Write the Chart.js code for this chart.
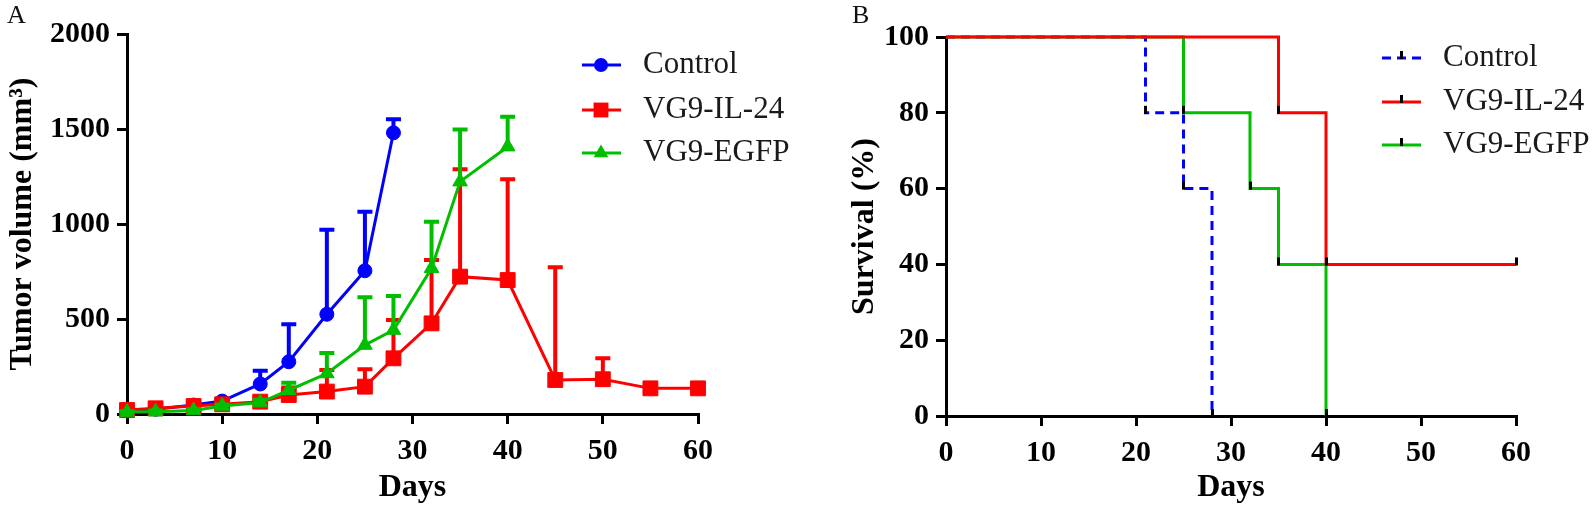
<!DOCTYPE html>
<html>
<head>
<meta charset="utf-8">
<script src="https://cdn.jsdelivr.net/npm/chart.js@4.4.1/dist/chart.umd.min.js"></script>
<style>
  html, body { margin: 0; padding: 0; background: #fff; }
  #wrap { position: relative; width: 1593px; height: 508px; overflow: hidden; }
  .box { position: absolute; top: 0; height: 508px; }
  .letter { position: absolute; font-family: "Liberation Serif", "Times New Roman", serif; font-size: 26px; color: #111; }
</style>
</head>
<body>
<div id="wrap">
  <div class="box" style="left:0;width:800px"><canvas id="chartA"></canvas></div>
  <div class="box" style="left:800px;width:793px"><canvas id="chartB"></canvas></div>
  <div class="letter" style="left:7px;top:0px">A</div>
  <div class="letter" style="left:852px;top:0px">B</div>
</div>
<script>
// ---------- data panel A : tumor volume (mean + SEM) ----------
const daysA = [0, 3, 7, 10, 14, 17, 21, 25, 28, 32, 35, 40, 45, 50, 55, 60];
const controlVol = [20, 25, 47, 68, 158, 275, 525, 754, 1480];
const controlSem = [10, 7, 8, 10, 70, 197, 445, 311, 71];
const il24Vol = [21, 30, 42, 51, 65, 100, 118, 144, 293, 477, 723, 705, 179, 183, 135, 135];
const il24Sem = [7, 6, 8, 9, 15, 40, 114, 91, 202, 333, 565, 530, 593, 110, 15, 15];
const egfpVol = [10, 12, 18, 42, 60, 125, 213, 363, 442, 767, 1223, 1407];
const egfpSem = [5, 6, 7, 8, 15, 40, 108, 251, 179, 245, 275, 158];

// ---------- data panel B : survival (%) ----------
const controlSurvDays = [0, 21, 25, 28];
const controlSurv = [100, 80, 60, 0];
const il24SurvDays = [0, 35, 40, 60];
const il24Surv = [100, 80, 40, 40];
const egfpSurvDays = [0, 25, 32, 35, 40];
const egfpSurv = [100, 80, 60, 40, 0];

const BLUE = '#0000ff', RED = '#ff0000', GREEN = '#00bf00';
const SERIF = '"Liberation Serif", "Times New Roman", serif';
const tickFont = { family: SERIF, size: 30, weight: 'bold' };
const titleFont = { family: SERIF, size: 32, weight: 'bold' };

function pts(xs, ys) {
  return ys.map((y, i) => ({ x: xs[i], y: y }));
}

// petit trait noir au-dessus de chaque marche (style GraphPad)
const tickMark = document.createElement('canvas');
tickMark.width = 3; tickMark.height = 16;
(function () {
  const c = tickMark.getContext('2d');
  c.fillStyle = '#000';
  c.fillRect(0, 1, 3, 8);
})();

function drawMarker(ctx, style, x, y, r, color) {
  ctx.fillStyle = color;
  ctx.beginPath();
  if (style === 'circle') {
    ctx.arc(x, y, r, 0, Math.PI * 2);
  } else if (style === 'rect') {
    const s = r * Math.SQRT1_2;
    ctx.rect(x - s, y - s, 2 * s, 2 * s);
  } else if (style === 'triangle') {
    for (let k = 0; k < 3; k++) {
      const a = k * 2 * Math.PI / 3;
      const px = x + Math.sin(a) * r, py = y - Math.cos(a) * r;
      if (k === 0) ctx.moveTo(px, py); else ctx.lineTo(px, py);
    }
    ctx.closePath();
  }
  ctx.fill();
}

function axisX(min, max, h) {
  return {
    type: 'linear', min: min, max: max,
    ticks: { stepSize: 10, color: '#000', font: tickFont, padding: 9, callback: v => String(v) },
    grid: { drawOnChartArea: false, color: '#000', lineWidth: 3, tickLength: 10 },
    border: { color: '#000', width: 3 },
    title: { display: true, text: 'Days', color: '#000', font: titleFont, padding: { top: 0, bottom: 1 } },
    afterFit: s => { s.height = h; }
  };
}

function axisY(max, step, text, w, tpad) {
  return {
    min: 0, max: max,
    ticks: { stepSize: step, color: '#000', font: tickFont, padding: 7, callback: v => String(v) },
    grid: { drawOnChartArea: false, color: '#000', lineWidth: 3, tickLength: 10 },
    border: { color: '#000', width: 3 },
    title: { display: true, text: text, color: '#000', font: titleFont, padding: { top: tpad, bottom: 0 } },
    afterFit: s => { s.width = w; }
  };
}

// barres d'erreur (haut seulement) dessinées juste avant chaque courbe
const errorBars = {
  id: 'errorBars',
  beforeDatasetDraw(chart, args) {
    const ds = chart.data.datasets[args.index];
    if (!ds.sem) return;
    const ctx = chart.ctx, yScale = chart.scales.y;
    ctx.save();
    ctx.strokeStyle = ds.borderColor;
    ctx.lineWidth = 4;
    args.meta.data.forEach((pt, i) => {
      const top = yScale.getPixelForValue(ds.data[i].y + ds.sem[i]);
      ctx.beginPath();
      ctx.moveTo(pt.x, pt.y); ctx.lineTo(pt.x, top);
      ctx.moveTo(pt.x - 7.5, top); ctx.lineTo(pt.x + 7.5, top);
      ctx.stroke();
    });
    ctx.restore();
  }
};

function makeLegend(rows, withShape) {
  return {
    id: 'sideLegend',
    afterDraw(chart) {
      const ctx = chart.ctx;
      chart.data.datasets.forEach((ds, i) => {
        const y = rows[i];
        ctx.save();
        ctx.strokeStyle = ds.borderColor;
        ctx.lineWidth = 3;
        ctx.setLineDash(ds.borderDash || []);
        ctx.beginPath(); ctx.moveTo(582, y); ctx.lineTo(621, y); ctx.stroke();
        ctx.setLineDash([]);
        if (withShape) drawMarker(ctx, ds.pointStyle, 601, y, ds.pointRadius, ds.borderColor);
        else ctx.drawImage(tickMark, 600, y - 8);
        ctx.fillStyle = '#1a1a1a';
        ctx.font = '31px ' + SERIF;
        ctx.textBaseline = 'middle';
        ctx.textAlign = 'left';
        ctx.fillText(ds.label, 643, y);
        ctx.restore();
      });
    }
  };
}

// ---------- Panel A ----------
new Chart(document.getElementById('chartA'), {
  type: 'line',
  data: {
    datasets: [
      { label: 'Control', data: pts(daysA, controlVol), sem: controlSem, borderColor: BLUE, backgroundColor: BLUE,
        pointStyle: 'circle', pointRadius: 7, order: 2 },
      { label: 'VG9-IL-24', data: pts(daysA, il24Vol), sem: il24Sem, borderColor: RED, backgroundColor: RED,
        pointStyle: 'rect', pointRadius: 10.5, order: 1 },
      { label: 'VG9-EGFP', data: pts(daysA, egfpVol), sem: egfpSem, borderColor: GREEN, backgroundColor: GREEN,
        pointStyle: 'triangle', pointRadius: 8.5, order: 0 }
    ].map(d => Object.assign(d, { borderWidth: 3, pointBorderWidth: 1, tension: 0, clip: false }))
  },
  options: {
    responsive: true, maintainAspectRatio: false, animation: false, events: [],
    layout: { padding: { left: 0, top: 34, right: 102, bottom: 0 } },
    plugins: { legend: { display: false }, tooltip: { enabled: false } },
    scales: {
      x: axisX(0, 60, 94),
      y: axisY(2000, 500, 'Tumor volume (mm³)', 127, 4)
    }
  },
  plugins: [errorBars, makeLegend([65, 110, 153], true)]
});

// ---------- Panel B ----------
new Chart(document.getElementById('chartB'), {
  type: 'line',
  data: {
    datasets: [
      { label: 'Control', data: pts(controlSurvDays, controlSurv), borderColor: BLUE, borderDash: [9, 6], order: 2 },
      { label: 'VG9-IL-24', data: pts(il24SurvDays, il24Surv), borderColor: RED, order: 0 },
      { label: 'VG9-EGFP', data: pts(egfpSurvDays, egfpSurv), borderColor: GREEN, order: 1 }
    ].map(d => Object.assign(d, {
      borderWidth: 3, stepped: 'before', clip: false, fill: false,
      pointStyle: tickMark, pointRadius: d.data.map((p, i) => (i === 0 ? 0 : 4))
    }))
  },
  options: {
    responsive: true, maintainAspectRatio: false, animation: false, events: [],
    layout: { padding: { left: 0, top: 37, right: 77, bottom: 0 } },
    plugins: { legend: { display: false }, tooltip: { enabled: false } },
    scales: {
      x: axisX(0, 60, 92),
      y: axisY(100, 20, 'Survival (%)', 146, 46)
    }
  },
  plugins: [makeLegend([58, 102, 145], false)]
});
</script>
</body>
</html>
